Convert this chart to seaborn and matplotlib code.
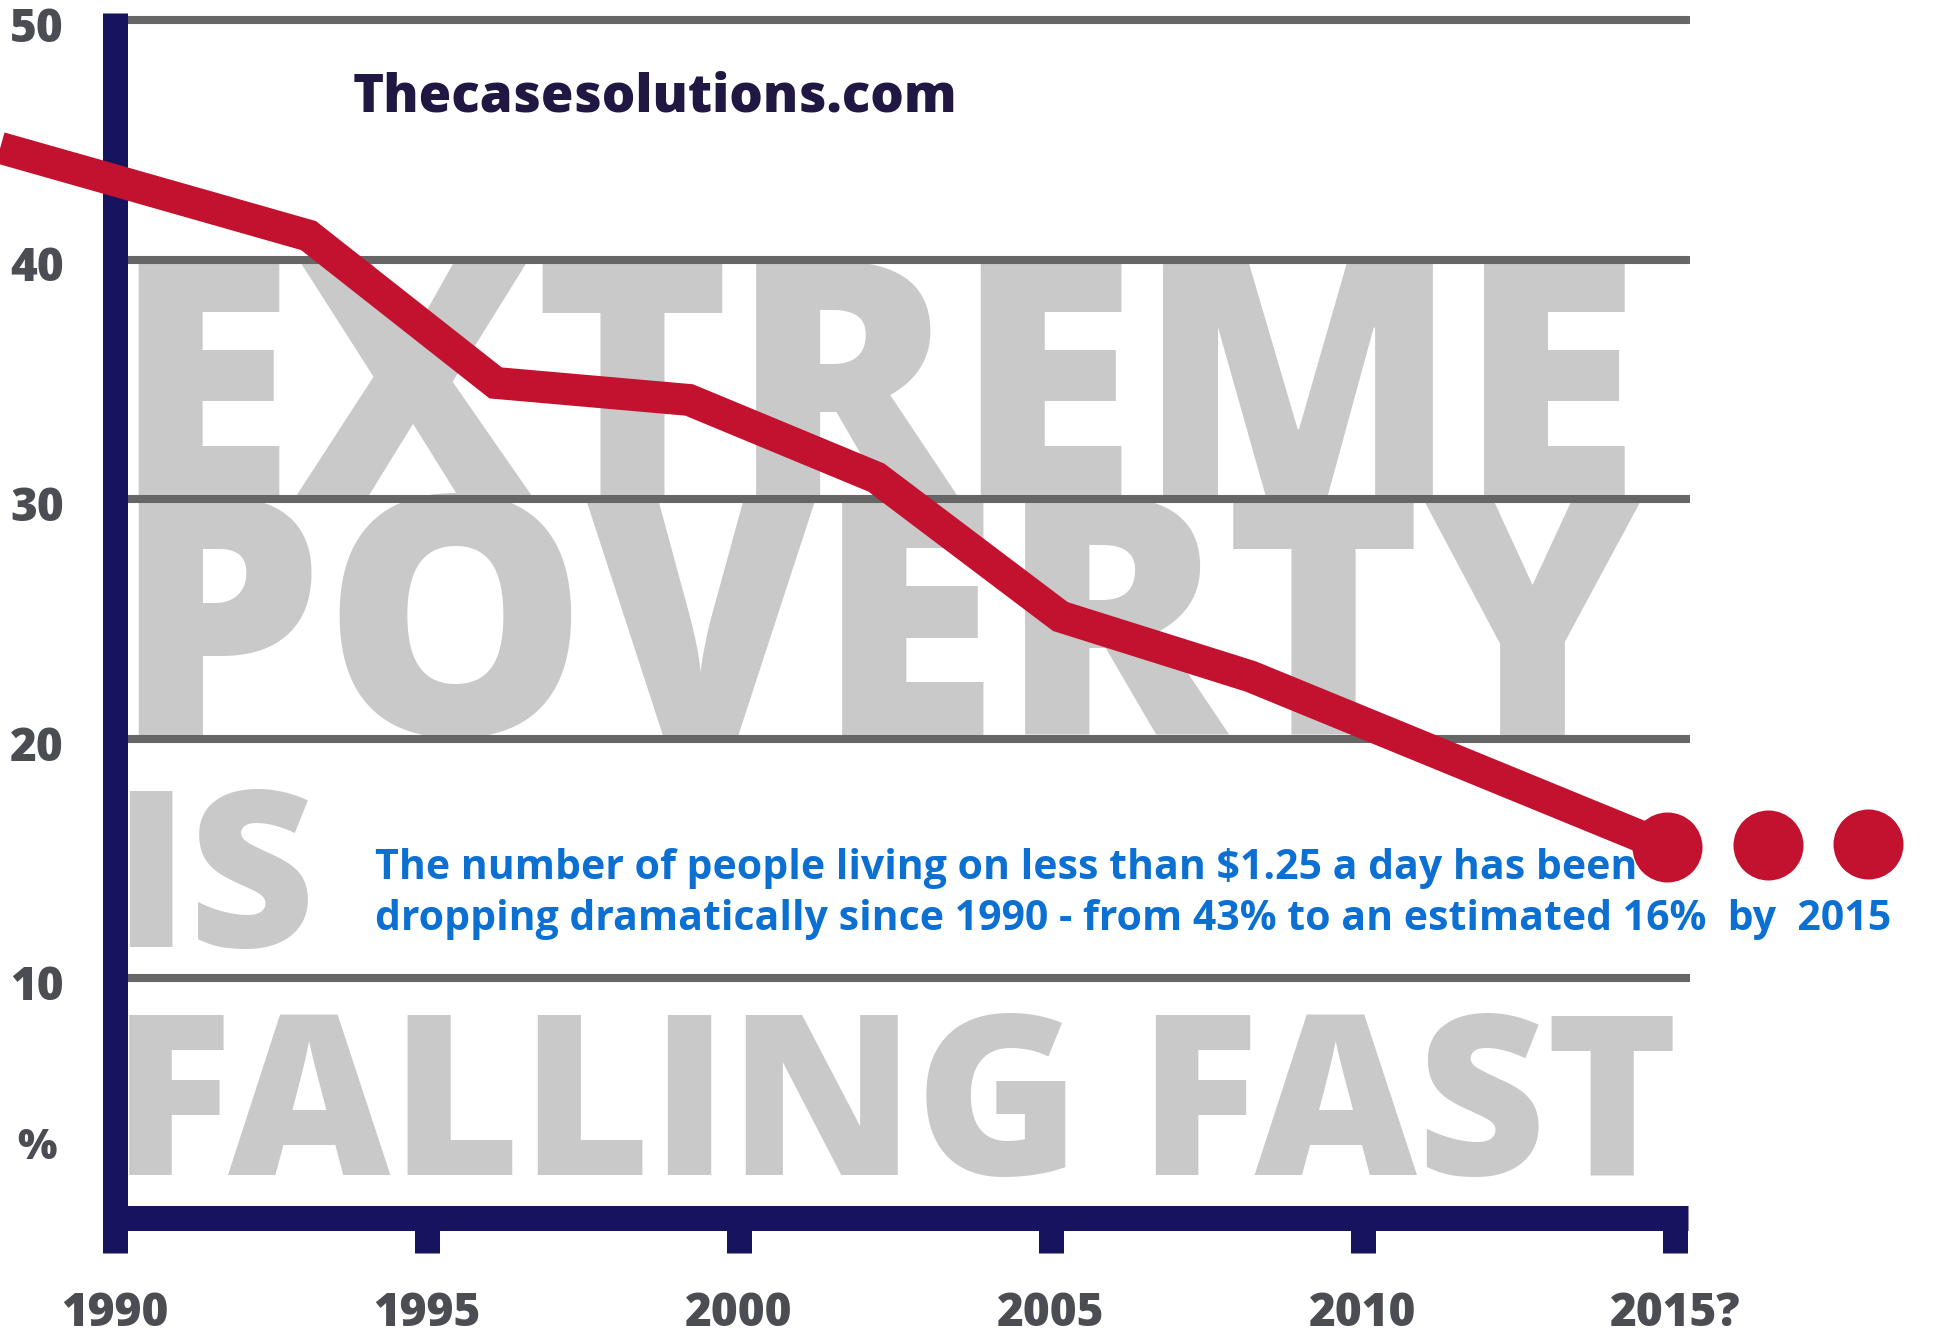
import matplotlib
matplotlib.use("Agg")
import matplotlib.pyplot as plt
import seaborn as sns
import pandas as pd

# ---------------- data ----------------
line_years = [1988.16, 1990.0, 1993.1, 1996.1, 1999.2, 2002.2, 2005.15, 2008.2, 2014.87]
line_values = [44.66, 43.3, 41.0, 34.85, 34.14, 30.9, 25.1, 22.6, 15.48]
dot_years = [2014.87, 2016.49, 2018.09]
dot_values = [15.48, 15.57, 15.6]
y_ticks = [10, 20, 30, 40, 50]
x_ticks = [1990, 1995, 2000, 2005, 2010, 2015]
x_tick_labels = ["1990", "1995", "2000", "2005", "2010", "2015?"]
big_words = ["EXTREME", "POVERTY", "IS", "FALLING FAST"]
watermark = "Thecasesolutions.com"
note_lines = ["The number of people living on less than $1.25 a day has been",
              "dropping dramatically since 1990 - from 43% to an estimated 16%  by  2015"]

# ---------------- style ----------------
sns.set_theme(style="white")
plt.rcParams["font.family"] = ["Open Sans", "DejaVu Sans"]

NAVY = "#16135f"
RED = "#c2122f"
GRID = "#666666"
BIG = "#c9c9c9"
LABEL = "#4b4d53"
BLUE = "#0b70d2"

fig = plt.figure(figsize=(19.44, 13.35), dpi=100)
ax = fig.add_axes([0, 0, 1, 1])

# big background words
big_pos = [(1989.95, 30.05, 239), (1989.95, 20.16, 240), (1989.95, 11.31, 158), (1989.95, 1.79, 161)]
for w, (x, y, fs) in zip(big_words, big_pos):
    ax.text(x, y, w, color=BIG, fontsize=fs, fontweight=800, ha="left", va="baseline", zorder=1)

# gridlines
ax.hlines(y_ticks, 1990.2, 2015.24, color=GRID, linewidth=5.8, zorder=2)

# navy axes
ax.vlines(1990, -1.46, 50.3, color=NAVY, linewidth=18, zorder=3)
ax.hlines(0, 1989.8, 2015.2, color=NAVY, linewidth=18, zorder=3)
ax.vlines(x_ticks[1:], -1.46, 0, color=NAVY, linewidth=18, zorder=3)

# red line and dots
df = pd.DataFrame({"year": line_years, "value": line_values})
sns.lineplot(data=df, x="year", y="value", ax=ax, color=RED, linewidth=23,
             zorder=5, solid_joinstyle="miter", solid_capstyle="butt")
dd = pd.DataFrame({"year": dot_years, "value": dot_values})
sns.scatterplot(data=dd, x="year", y="value", ax=ax, color=RED, s=2540,
                linewidth=0, zorder=6)
ax.set_xlim(1988.157, 2019.31)
ax.set_ylim(-4.88, 50.83)
ax.axis("off")

# tick labels
for yv in y_ticks:
    ax.text(1988.75, yv - 0.18, str(yv), color=LABEL, fontsize=33, fontweight=800,
            ha="center", va="center_baseline", zorder=7)
ax.text(1988.75, 3.13, "%", color=LABEL, fontsize=30, fontweight=800,
        ha="center", va="center_baseline", zorder=7)
for xv, lab in zip(x_ticks, x_tick_labels):
    ax.text(xv, -3.76, lab, color=LABEL, fontsize=33, fontweight=800,
            ha="center", va="center_baseline", zorder=7)

# watermark
ax.text(1993.8, 46.16, watermark, color="#201843", fontsize=38, fontweight=800,
        ha="left", va="baseline", zorder=7)

# note
ax.text(1994.17, 14.15, note_lines[0], color=BLUE, fontsize=29.5, fontweight="bold",
        ha="left", va="baseline", zorder=4)
ax.text(1994.17, 12.02, note_lines[1], color=BLUE, fontsize=29.5, fontweight="bold",
        ha="left", va="baseline", zorder=4)

fig.savefig("out.png", dpi=100, facecolor="white")
